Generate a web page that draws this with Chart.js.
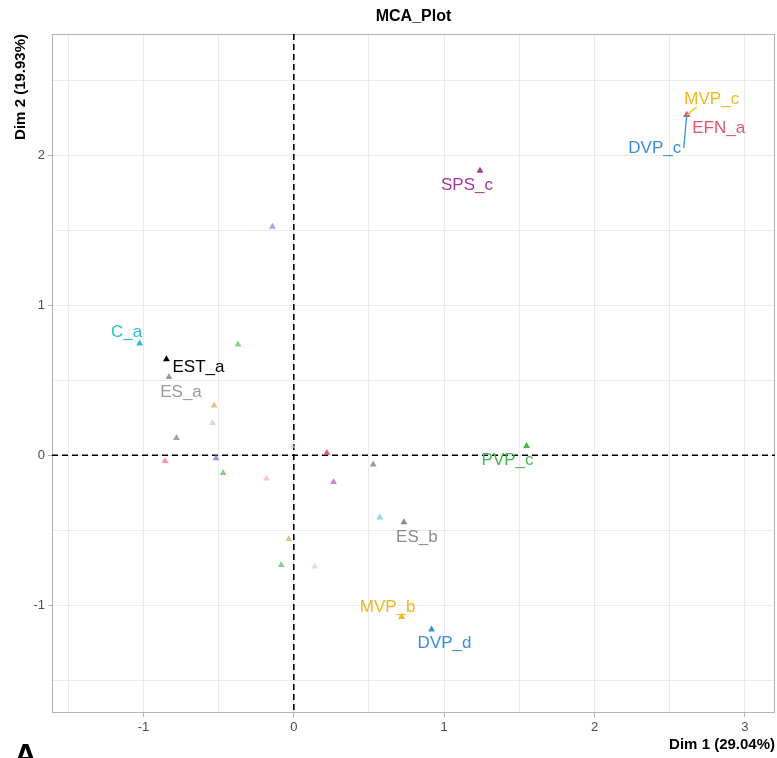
<!DOCTYPE html>
<html>
<head>
<meta charset="utf-8">
<title>MCA_Plot</title>
<script src="https://cdn.jsdelivr.net/npm/chart.js@4.4.1/dist/chart.umd.min.js"></script>
<style>
    html, body { margin: 0; padding: 0; background: #fff; }
    #wrap { width: 777px; height: 758px; overflow: hidden; }
</style>
</head>
<body>
<div id="wrap"><canvas id="mcaChart" width="779" height="758"></canvas></div>
<script>
// category labels ('' = point drawn without a text label)
const categories = [
    '', '', '', '', '', '', '', '', '', '', '', '', '', '', '', '', '',
    'DVP_c', 'MVP_c', 'EFN_a', 'SPS_c', 'C_a', 'EST_a', 'ES_a', 'ES_b', 'PVP_c', 'MVP_b', 'DVP_d'
];
const dim1 = [
    -0.530, -0.541, -0.780, -0.856, -0.517, -0.470, -0.182, -0.011, 0.220, 0.528, 0.264, -0.371, -0.142, -0.033, -0.084, 0.138, 0.572,
    2.613, 2.613, 2.613, 1.238, -1.025, -0.847, -0.830, 0.732, 1.548, 0.717, 0.916
];
const dim2 = [
    0.331, 0.215, 0.115, -0.038, -0.020, -0.118, -0.155, 0.060, 0.015, -0.062, -0.178, 0.738, 1.522, -0.558, -0.731, -0.742, -0.415,
    2.267, 2.267, 2.267, 1.895, 0.745, 0.640, 0.522, -0.447, 0.062, -1.078, -1.162
];
const xTicks = [-1, 0, 1, 2, 3];
const yTicks = [-1, 0, 1, 2];
const plotTitle = 'MCA_Plot';
const xTitle = 'Dim 1 (29.04%)';
const yTitle = 'Dim 2 (19.93%)';

// styles
const pointColors = [
    'rgba(214,180,110,0.8)', 'rgba(200,200,200,0.7)', 'rgba(140,140,140,0.8)', 'rgba(245,130,140,0.8)',
    'rgba(140,130,210,0.85)', 'rgba(100,190,100,0.75)', 'rgba(240,170,210,0.7)', 'rgba(248,200,210,0.6)',
    'rgba(215,70,80,0.85)', 'rgba(140,140,140,0.85)', 'rgba(205,110,200,0.85)', 'rgba(110,200,115,0.8)',
    'rgba(150,140,210,0.8)', 'rgba(214,180,110,0.8)', 'rgba(110,200,115,0.8)', 'rgba(245,195,215,0.7)',
    'rgba(120,210,230,0.85)',
    '#3A8DDE', '#F2B61F', '#E5546F', '#A3379B', '#2DBCD2', '#000000', '#9A9A9A', '#8C8C8C', '#4CB450', '#F2B61F', '#3A8DDE'
];
// text position relative to its point, in pixels
const labelOffsets = {
    MVP_c: [25, -16], EFN_a: [32, 13], DVP_c: [-32, 33], SPS_c: [-13, 14], C_a: [-13, -11],
    EST_a: [32, 8], ES_a: [12, 15], ES_b: [13, 15], PVP_c: [-19, 14], MVP_b: [-14, -10], DVP_d: [13, 14]
};
// repel segments: start relative to the point
const segments = { MVP_c: [10, -8], DVP_c: [-3, 33] };

const mcaDecor = {
    id: 'mcaDecor',
    beforeDatasetsDraw(chart) {
        const { ctx, chartArea: a, scales: { x, y } } = chart;
        ctx.save();
        ctx.strokeStyle = '#B3B3B3';
        ctx.lineWidth = 1;
        ctx.strokeRect(a.left + 0.5, a.top + 0.5, a.width - 1, a.height - 1);
        // reference lines at 0
        const x0 = x.getPixelForValue(0), y0 = y.getPixelForValue(0);
        ctx.strokeStyle = '#000';
        ctx.lineWidth = 1.6;
        ctx.setLineDash([6, 4]);
        ctx.beginPath();
        ctx.moveTo(x0, a.top); ctx.lineTo(x0, a.bottom);
        ctx.moveTo(a.left, y0); ctx.lineTo(a.right, y0);
        ctx.stroke();
        ctx.restore();
    },
    afterDatasetsDraw(chart) {
        const { ctx, scales: { x, y } } = chart;
        ctx.save();
        ctx.font = '17px "Liberation Sans", Arial, sans-serif';
        ctx.textAlign = 'center';
        ctx.textBaseline = 'middle';
        categories.forEach((name, i) => {
            if (!name) return;
            const px = x.getPixelForValue(dim1[i]);
            const py = y.getPixelForValue(dim2[i]);
            const off = labelOffsets[name] || [0, 0];
            if (segments[name]) {
                ctx.strokeStyle = pointColors[i];
                ctx.lineWidth = 1.3;
                ctx.beginPath();
                ctx.moveTo(px + segments[name][0], py + segments[name][1]);
                ctx.lineTo(px, py);
                ctx.stroke();
            }
            ctx.fillStyle = pointColors[i];
            ctx.fillText(name, px + off[0], py + off[1]);
        });
        ctx.restore();
    },
    afterDraw(chart) {
        const { ctx, chartArea: a } = chart;
        ctx.save();
        ctx.fillStyle = '#000';
        ctx.font = 'bold 16px "Liberation Sans", Arial, sans-serif';
        ctx.textAlign = 'center';
        ctx.textBaseline = 'middle';
        ctx.fillText(plotTitle, (a.left + a.right) / 2, 17);
        // panel letter, cut off by the bottom edge
        ctx.font = 'bold 32px "Liberation Sans", Arial, sans-serif';
        ctx.textAlign = 'left';
        ctx.textBaseline = 'alphabetic';
        ctx.fillText('A', 14, 766);
        ctx.restore();
    }
};

function isTick(list, v) {
    return list.some(t => Math.abs(t - v) < 1e-6);
}

const tickFont = { family: '"Liberation Sans", Arial, sans-serif', size: 13 };
const titleFont = { family: '"Liberation Sans", Arial, sans-serif', size: 15, weight: 'bold' };

new Chart(document.getElementById('mcaChart'), {
    type: 'scatter',
    data: {
        datasets: [{
            data: categories.map((c, i) => ({ x: dim1[i], y: dim2[i] })),
            pointStyle: 'triangle',
            pointRadius: 4,
            pointBorderWidth: 0,
            pointBackgroundColor: pointColors,
            pointBorderColor: pointColors
        }]
    },
    options: {
        responsive: false,
        animation: false,
        events: [],
        layout: { padding: { top: 34, right: 0, left: 0, bottom: 0 } },
        plugins: {
            legend: { display: false },
            tooltip: { enabled: false }
        },
        scales: {
            x: {
                type: 'linear',
                min: -1.608,
                max: 3.2,
                afterFit: s => { s.height = 45; s.paddingLeft = 0; s.paddingRight = 0; },
                border: { display: false },
                grid: {
                    color: '#EBEBEB',
                    lineWidth: 1,
                    tickLength: 4,
                    tickColor: c => isTick(xTicks, c.tick.value) ? '#B3B3B3' : 'rgba(0,0,0,0)'
                },
                ticks: {
                    stepSize: 0.5,
                    includeBounds: false,
                    autoSkip: false,
                    maxRotation: 0,
                    padding: 3,
                    color: '#4D4D4D',
                    font: tickFont,
                    callback: v => isTick(xTicks, v) ? String(Math.round(v)) : ''
                },
                title: {
                    display: true,
                    text: xTitle,
                    align: 'end',
                    color: '#000',
                    font: titleFont,
                    padding: { top: 0, bottom: 4 }
                }
            },
            y: {
                type: 'linear',
                min: -1.718,
                max: 2.807,
                afterFit: s => { s.width = 52; s.paddingTop = 0; s.paddingBottom = 0; },
                border: { display: false },
                grid: {
                    color: '#EBEBEB',
                    lineWidth: 1,
                    tickLength: 4,
                    tickColor: c => isTick(yTicks, c.tick.value) ? '#B3B3B3' : 'rgba(0,0,0,0)'
                },
                ticks: {
                    stepSize: 0.5,
                    includeBounds: false,
                    autoSkip: false,
                    padding: 3,
                    color: '#4D4D4D',
                    font: tickFont,
                    callback: v => isTick(yTicks, v) ? String(Math.round(v)) : ''
                },
                title: {
                    display: true,
                    text: yTitle,
                    align: 'end',
                    color: '#000',
                    font: titleFont,
                    padding: { top: 12, bottom: 0 }
                }
            }
        }
    },
    plugins: [mcaDecor]
});
</script>
</body>
</html>
